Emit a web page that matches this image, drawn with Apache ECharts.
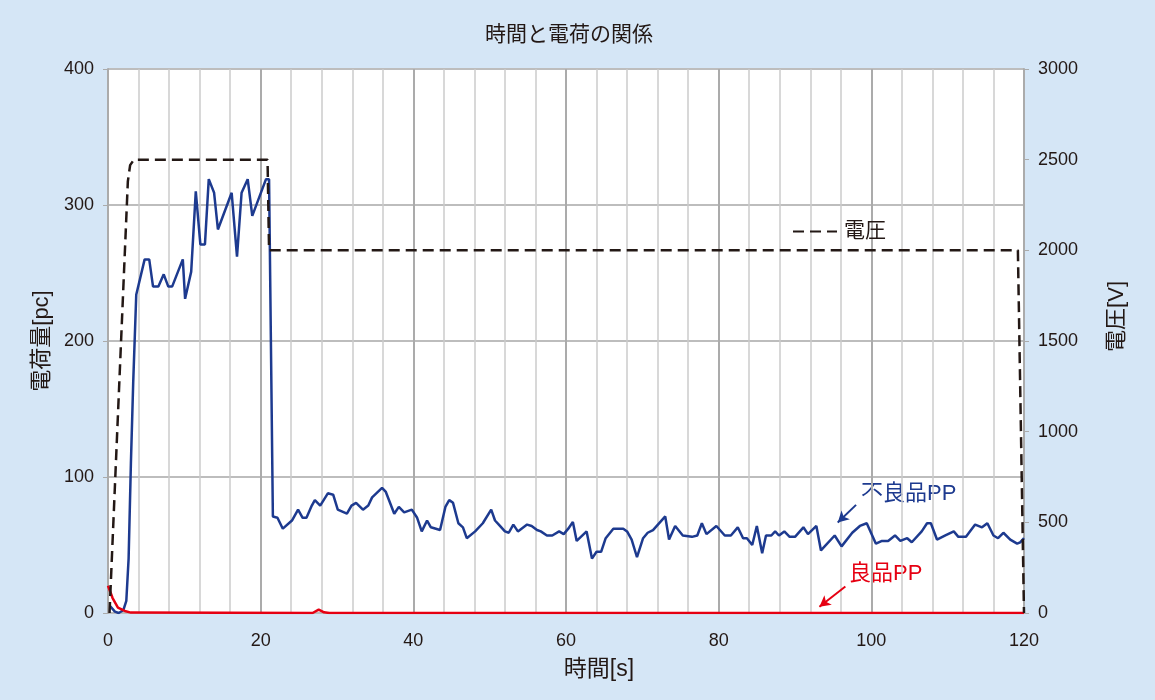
<!DOCTYPE html>
<html><head><meta charset="utf-8">
<script src="https://cdn.jsdelivr.net/npm/echarts@6/dist/echarts.min.js"></script>
<style>html,body{margin:0;padding:0;background:#d5e6f6;}#c{width:1155px;height:700px;}</style>
</head><body><div id="c"></div>
<script>
var titleText = '時間と電荷の関係';
var xName = '時間[s]';
var yLeftName = '電荷量[pc]';
var yRightName = '電圧[V]';
var seriesNames = ['不良品PP', '良品PP', '電圧'];

// [time s, charge pC]
var chargeBad = [[0.3,5],[0.9,1],[1.4,0],[2.0,2],[2.4,9],[2.7,40],[3.0,110],[3.3,169],[3.7,234],[4.8,260],[5.4,260],[5.9,240],[6.6,240],[7.3,249],[7.9,240],[8.4,240],[9.8,260],[10.1,231],[10.9,251],[11.5,310],[12.1,271],[12.7,271],[13.2,319],[13.9,309],[14.4,282],[16.2,309],[16.9,262],[17.5,309],[18.3,319],[18.9,292],[20.7,319],[21.1,319],[21.6,71],[22.2,70],[22.9,62],[24.1,68],[24.9,76],[25.5,70],[26.0,70],[26.7,79],[27.1,83],[27.8,79],[28.8,88],[29.5,87],[30.1,76],[31.3,73],[31.9,79],[32.5,81],[33.4,76],[34.1,79],[34.6,85],[35.9,92],[36.4,89],[37.5,73],[38.1,78],[38.8,74],[39.8,76],[40.5,70],[41.1,60],[41.8,68],[42.3,63],[43.5,61],[44.2,78],[44.7,83],[45.2,81],[45.9,66],[46.5,63],[47.0,55],[48.1,60],[49.1,66],[50.2,76],[50.7,68],[51.2,65],[52.0,60],[52.5,59],[53.1,65],[53.7,60],[54.9,65],[55.5,64],[56.2,61],[56.7,60],[57.5,57],[58.2,57],[59.1,60],[59.7,58],[60.3,62],[60.9,67],[61.4,53],[62.7,60],[63.4,40],[64.0,45],[64.6,45],[65.2,55],[66.2,62],[67.5,62],[68.0,60],[68.6,54],[69.3,41],[70.1,55],[70.7,59],[71.4,61],[73.0,71],[73.5,54],[74.3,64],[75.3,57],[76.5,56],[77.2,57],[77.8,66],[78.4,58],[79.7,64],[80.8,57],[81.6,57],[82.5,63],[83.2,55],[83.7,55],[84.4,50],[85.0,64],[85.7,44],[86.2,57],[86.9,57],[87.4,60],[87.9,57],[88.6,60],[89.3,56],[90.0,56],[91.1,63],[91.7,58],[92.8,64],[93.4,46],[95.2,57],[96.1,49],[97.5,59],[98.5,64],[99.4,66],[100.6,51],[101.4,53],[102.2,53],[103.1,57],[103.8,53],[104.7,55],[105.3,52],[106.6,60],[107.3,66],[107.8,66],[108.6,54],[109.7,57],[110.8,60],[111.4,56],[112.4,56],[113.6,65],[114.5,63],[115.2,66],[116.0,57],[116.6,55],[117.3,59],[118.2,54],[119.1,51],[119.5,52],[120,55]];

var chargeGood = [[0,20],[0.6,11],[1.3,4],[2.2,1.5],[3.0,0.3],[26.8,0],[27.6,2.5],[28.3,0.5],[29,0],[120,0]];

// [time s, voltage V]
var voltage = [[0.2,0],[2.6,2380],[2.9,2470],[3.4,2500],[20.9,2500],[21.1,2000],[119.2,2000],[120,0]];

var xMin = 0, xMax = 120, xMinorStep = 4, xMajorStep = 20;
var yLeftMax = 400, yLeftStep = 100;
var yRightMax = 3000, yRightStep = 500;

var FONT = "'Liberation Sans', 'Noto Sans CJK JP', sans-serif";
var TXT = '#231815';
var BLUE = '#1d3a8f';
var RED = '#e60012';

var chart = echarts.init(document.getElementById('c'));
chart.setOption({
  backgroundColor: '#d5e6f6',
  animation: false,
  textStyle: { fontFamily: FONT },
  title: { text: titleText, left: 480, top: 20, textStyle: { fontFamily: FONT, fontSize: 21, fontWeight: 'normal', color: TXT } },
  legend: {
    data: ['電圧'], left: 787, top: 216, itemWidth: 44, itemHeight: 14, itemGap: 4,
    itemStyle: { opacity: 0 },
    textStyle: { fontFamily: FONT, fontSize: 21, color: TXT, padding: [0, 0, 0, 2] }
  },
  grid: { left: 108, right: 131, top: 69, bottom: 87, show: true, backgroundColor: '#ffffff', borderWidth: 0 },
  xAxis: [{
    type: 'value', min: xMin, max: xMax, interval: xMinorStep,
    name: xName, nameLocation: 'middle', nameGap: 45,
    nameTextStyle: { fontFamily: FONT, fontSize: 23, color: TXT, padding: [0, 0, 0, 66] },
    axisLine: { show: false, onZero: false },
    axisTick: { show: false },
    axisLabel: { fontSize: 18, color: TXT, margin: 19, fontFamily: FONT,
      formatter: function (v) { return v % xMajorStep === 0 ? String(v) : ''; } },
    splitLine: { show: true, lineStyle: { color: '#cbcbcb', width: 1.5 } }
  }, {
    type: 'value', min: xMin, max: xMax, interval: xMajorStep, position: 'bottom',
    axisLine: { show: false, onZero: false }, axisTick: { show: false }, axisLabel: { show: false },
    splitLine: { show: true, lineStyle: { color: '#ababab', width: 2 } }
  }],
  yAxis: [{
    type: 'value', min: 0, max: yLeftMax, interval: yLeftStep,
    name: yLeftName, nameLocation: 'middle', nameGap: 54, nameRotate: 90,
    nameTextStyle: { fontFamily: FONT, fontSize: 22, color: TXT },
    axisLine: { show: true, onZero: false, lineStyle: { color: '#ababab', width: 2 } },
    axisTick: { show: true, length: 5, lineStyle: { color: '#ababab' } },
    axisLabel: { fontSize: 18, color: TXT, margin: 14, fontFamily: FONT },
    splitLine: { show: true, lineStyle: { color: '#bdbdbd', width: 2 } }
  }, {
    type: 'value', min: 0, max: yRightMax, interval: yRightStep, position: 'right',
    axisLine: { show: true, onZero: false, lineStyle: { color: '#ababab', width: 2 } },
    axisTick: { show: true, length: 5, lineStyle: { color: '#ababab' } },
    axisLabel: { fontSize: 18, color: TXT, margin: 14, fontFamily: FONT,
      formatter: function (v) { return String(v); } },
    splitLine: { show: false }
  }],
  graphic: [
    { type: 'text', left: 1106, top: 281, rotation: Math.PI / 2,
      style: { text: yRightName, fontFamily: FONT, fontSize: 22, fill: TXT } },
    { type: 'text', left: 861, top: 483, style: { text: '不良品PP', fontFamily: FONT, fontSize: 22, fill: BLUE } },
    { type: 'text', left: 849, top: 563, style: { text: '良品PP', fontFamily: FONT, fontSize: 22, fill: RED } }
  ],
  series: [{
    name: seriesNames[0], type: 'line', data: chargeBad, xAxisIndex: 0, yAxisIndex: 0,
    showSymbol: false, symbol: 'none', lineStyle: { color: BLUE, width: 2.5 }, z: 3,
    markLine: { silent: true, symbol: ['none', 'arrow'], symbolSize: [9, 11], label: { show: false },
      lineStyle: { color: BLUE, width: 2, type: 'solid' },
      data: [[{ coord: [98.0, 79.5] }, { coord: [95.6, 66.5] }]] }
  }, {
    name: seriesNames[1], type: 'line', data: chargeGood, xAxisIndex: 0, yAxisIndex: 0,
    showSymbol: false, symbol: 'none', lineStyle: { color: RED, width: 2.5 }, z: 4,
    markLine: { silent: true, symbol: ['none', 'arrow'], symbolSize: [9, 11], label: { show: false },
      lineStyle: { color: RED, width: 2, type: 'solid' },
      data: [[{ coord: [96.6, 19.5] }, { coord: [93.2, 4.6] }]] }
  }, {
    name: seriesNames[2], type: 'line', data: voltage, xAxisIndex: 0, yAxisIndex: 1,
    showSymbol: false, symbol: 'none', lineStyle: { color: TXT, width: 2.5, type: [11, 6] }, z: 5
  }]
});
</script></body></html>
